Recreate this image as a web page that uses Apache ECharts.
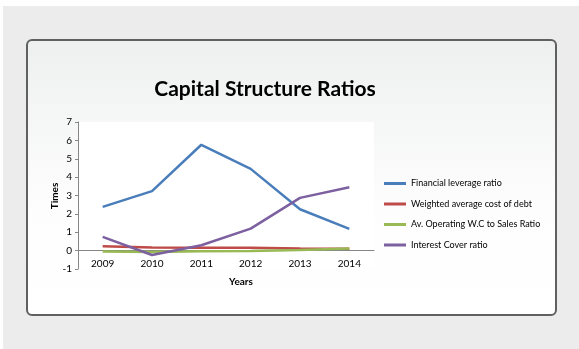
<!DOCTYPE html>
<html><head><meta charset="utf-8">
<script src="https://cdn.jsdelivr.net/npm/echarts@6/dist/echarts.min.js"></script>
<style>html,body{margin:0;padding:0;background:#fff}#c{width:579px;height:349px}</style>
</head><body><div id="c"></div>
<script>
const years = ['2009','2010','2011','2012','2013','2014'];
const financialLeverage = [2.38, 3.24, 5.76, 4.45, 2.25, 1.18];
const weightedCostDebt = [0.24, 0.17, 0.15, 0.15, 0.12, 0.10];
const opWCtoSales = [-0.05, -0.08, -0.04, -0.02, 0.03, 0.12];
const interestCover = [0.75, -0.24, 0.29, 1.20, 2.87, 3.45];
const seriesNames = ['Financial leverage ratio','Weighted average cost of debt','Av. Operating W.C to Sales Ratio','Interest Cover ratio'];
const colors = ['#4a7ebb','#be4b48','#98b954','#7d60a0'];
const FONT = 'Lato, "Open Sans", sans-serif';

const chart = echarts.init(document.getElementById('c'), null, {renderer:'canvas'});
const dataArr = [financialLeverage, weightedCostDebt, opWCtoSales, interestCover];
const gridTop = 122, gridH = 147, yMin = -1, yMax = 7;
const zeroOffset = -(gridH * (0 - yMin) / (yMax - yMin));
chart.setOption({
  animation:false,
  color: colors,
  textStyle:{fontFamily:FONT},
  graphic:[
    {type:'rect', z:-10, silent:true, shape:{x:3,y:6,width:576,height:343}, style:{fill:'#ececec'}},
    {type:'rect', z:-9, silent:true, shape:{x:27,y:40,width:529,height:275,r:5},
      style:{fill:new echarts.graphic.LinearGradient(0,0,0,1,[{offset:0,color:'#eef0ef'},{offset:0.6,color:'#fdfdfd'},{offset:1,color:'#ffffff'}]),
      stroke:'#606060', lineWidth:2}},
    {type:'text', silent:true, style:{text:'Capital Structure Ratios', x:265, y:89, align:'center', verticalAlign:'middle', font:'bold 21px '+FONT, fill:'#000'}},
    {type:'text', silent:true, style:{text:'Years', x:241, y:282, align:'center', verticalAlign:'middle', font:'bold 10px '+FONT, fill:'#000'}},
    {type:'text', silent:true, rotation:Math.PI/2, x:55, y:196, style:{text:'Times', x:0, y:0, align:'center', verticalAlign:'middle', font:'bold 10px '+FONT, fill:'#000'}}
  ],
  grid:{left:78, top:gridTop, width:296, height:gridH, show:true, backgroundColor:'#ffffff', borderWidth:0},
  legend:{
    orient:'vertical', left:384, top:178, padding:0, itemWidth:22, itemHeight:3, itemGap:9.5, icon:'rect',
    textStyle:{fontSize:9, color:'#000', fontFamily:FONT, lineHeight:11},
    data: seriesNames
  },
  xAxis:{
    type:'category', data:years, boundaryGap:true, offset: zeroOffset,
    axisLine:{onZero:false, lineStyle:{color:'#868686', width:1}},
    axisTick:{show:false},
    axisLabel:{color:'#000', fontSize:10, margin:8, fontFamily:FONT},
    splitLine:{show:false}
  },
  yAxis:{
    type:'value', min:yMin, max:yMax, interval:1,
    axisLine:{show:true, lineStyle:{color:'#868686', width:1}},
    axisTick:{show:true, length:3, lineStyle:{color:'#868686'}},
    axisLabel:{color:'#000', fontSize:10, margin:6, fontFamily:FONT},
    splitLine:{show:false}
  },
  series: seriesNames.map((n,i)=>({
    name:n, type:'line', data:dataArr[i], symbol:'none', smooth:false,
    lineStyle:{width:2.5, color:colors[i]}, itemStyle:{color:colors[i]}, z: i===3?5:(i===0?4:3)
  }))
});
</script></body></html>
